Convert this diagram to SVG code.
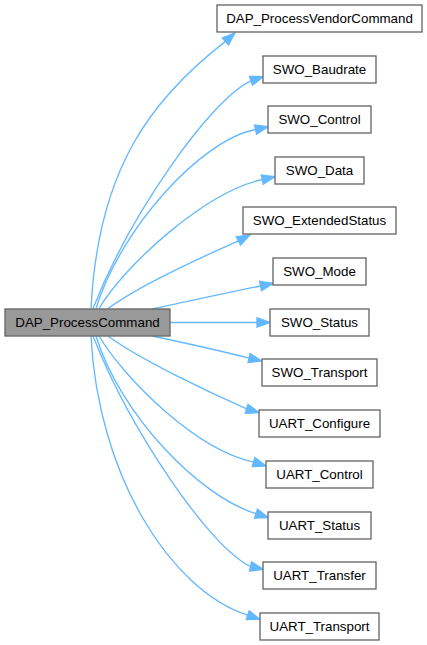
<svg xmlns="http://www.w3.org/2000/svg" width="427" height="645" viewBox="0 0 427 645">
<style>
.n rect{fill:#ffffff;stroke:#666666;stroke-width:1.33}
.root rect{fill:#999999;stroke:#666666;stroke-width:1.33}
text{font-family:"Liberation Sans",Arial,sans-serif;font-size:13.33px;fill:#000000;text-anchor:middle}
.e path{fill:none;stroke:#63b8ff;stroke-width:1.33}
.e polygon{fill:#63b8ff;stroke:#63b8ff;stroke-width:1.33}
</style>
<rect width="427" height="645" fill="#ffffff"/>
<g id="edges" class="e">
<path d="M91,308.5 C98,170 150,100 225.4,41.4"/>
<polygon points="228.55,44.88 235,32.7 222.25,37.92"/>
<path d="M93,308.5 C130,214.5 210.4,99.3 251,80.8"/>
<polygon points="252.49,85.26 263.3,76.7 249.51,76.34"/>
<path d="M96,308.5 C120,230 200,140 255.6,129.5"/>
<polygon points="256.61,134.09 268.3,126.7 254.59,124.91"/>
<path d="M99,308.5 C125,265 205,192 262.3,179.5"/>
<polygon points="263.31,184.09 275,176.7 261.29,174.91"/>
<path d="M108,308.5 C140,285 200,258 238.4,240.9"/>
<polygon points="240.52,245.1 250,235 236.28,236.7"/>
<path d="M152,309 C190,301 230,292 260.6,286"/>
<polygon points="261.57,290.6 273.3,283.3 259.63,281.4"/>
<path d="M170,322.5 L257,322.5"/>
<polygon points="257,327.2 270,322.5 257,317.8"/>
<path d="M152,336 C190,344 225,352 249,358.1"/>
<polygon points="247.96,362.68 261.7,361 250.04,353.52"/>
<path d="M108,336 C140,359.5 208,392 246.6,408.8"/>
<polygon points="245.18,413.28 259,412.7 248.02,404.32"/>
<path d="M99,336 C125,379.5 196,449.6 253.6,462.1"/>
<polygon points="252.2,466.58 266,466 255,457.62"/>
<path d="M96,336 C120,414.5 200,497 256,513.6"/>
<polygon points="254.51,518.06 268.3,517.7 257.49,509.14"/>
<path d="M93,336 C130,430 210,548 250.6,566.5"/>
<polygon points="249.59,571.09 263.3,569.3 251.61,561.91"/>
<path d="M91,336 C98,475 170,590 247.7,615.2"/>
<polygon points="246.21,619.66 260,619.3 249.19,610.74"/>
</g>
<g id="DAP_ProcessCommand" class="root"><rect x="5" y="309" width="165" height="27"/><text x="87.5" y="327.3">DAP_ProcessCommand</text></g>
<g id="DAP_ProcessVendorCommand" class="n"><rect x="217" y="5" width="205" height="27"/><text x="319.5" y="23.3">DAP_ProcessVendorCommand</text></g>
<g id="SWO_Baudrate" class="n"><rect x="263" y="56" width="113" height="27"/><text x="319.5" y="74.3">SWO_Baudrate</text></g>
<g id="SWO_Control" class="n"><rect x="268" y="106" width="103" height="27"/><text x="319.5" y="124.3">SWO_Control</text></g>
<g id="SWO_Data" class="n"><rect x="275" y="157" width="89" height="27"/><text x="319.5" y="175.3">SWO_Data</text></g>
<g id="SWO_ExtendedStatus" class="n"><rect x="243" y="207" width="153" height="27"/><text x="319.5" y="225.3">SWO_ExtendedStatus</text></g>
<g id="SWO_Mode" class="n"><rect x="273" y="258" width="93" height="27"/><text x="319.5" y="276.3">SWO_Mode</text></g>
<g id="SWO_Status" class="n"><rect x="270" y="309" width="99" height="27"/><text x="319.5" y="327.3">SWO_Status</text></g>
<g id="SWO_Transport" class="n"><rect x="262" y="359" width="115" height="27"/><text x="319.5" y="377.3">SWO_Transport</text></g>
<g id="UART_Configure" class="n"><rect x="259" y="410" width="121" height="27"/><text x="319.5" y="428.3">UART_Configure</text></g>
<g id="UART_Control" class="n"><rect x="266" y="461" width="107" height="27"/><text x="319.5" y="479.3">UART_Control</text></g>
<g id="UART_Status" class="n"><rect x="268" y="512" width="103" height="27"/><text x="319.5" y="530.3">UART_Status</text></g>
<g id="UART_Transfer" class="n"><rect x="263" y="562" width="113" height="27"/><text x="319.5" y="580.3">UART_Transfer</text></g>
<g id="UART_Transport" class="n"><rect x="260" y="613" width="119" height="27"/><text x="319.5" y="631.3">UART_Transport</text></g>
</svg>
